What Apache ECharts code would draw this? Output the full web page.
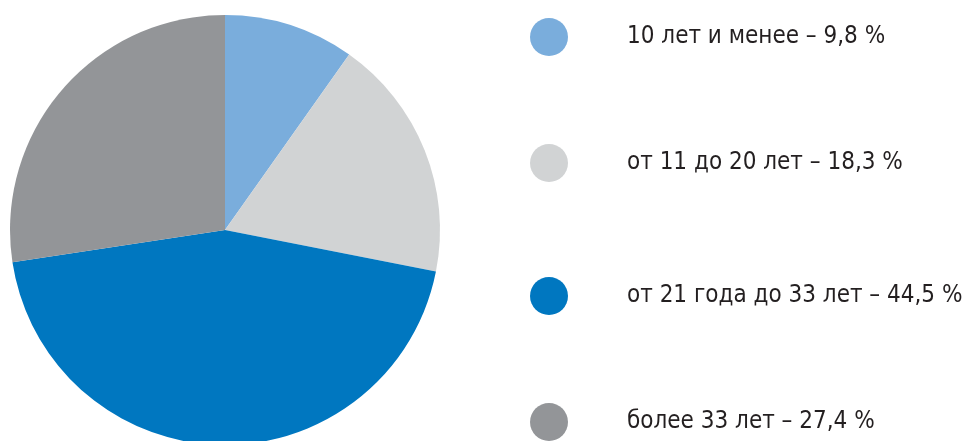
<!DOCTYPE html>
<html>
<head>
<meta charset="utf-8">
<script src="https://cdn.jsdelivr.net/npm/echarts@6/dist/echarts.min.js"></script>
<style>
  html, body { margin: 0; padding: 0; background: #fff; }
  #chart { width: 963px; height: 441px; }
</style>
</head>
<body>
<div id="chart"></div>
<script>
// age groups and their shares, %
const categories = ['10 лет и менее', 'от 11 до 20 лет', 'от 21 года до 33 лет', 'более 33 лет']
const shares = [9.8, 18.3, 44.5, 27.4]
const colors = ['#7aaddc', '#d1d3d4', '#0077c0', '#939598']
// top of each legend row, px
const legendTops = [18, 144, 277, 403]

const chart = echarts.init(document.getElementById('chart'))

// one legend per row so the rows sit where they do in the picture
const legends = categories.map((c, i) => ({
    orient: 'vertical',
    left: 530,
    top: legendTops[i],
    padding: 0,
    itemWidth: 38,
    itemHeight: 38,
    icon: 'circle',
    selectedMode: false,
    data: [c],
    formatter: function (name) {
        const k = categories.indexOf(name)
        return name + ' – ' + String(shares[k]).replace('.', ',') + ' %'
    },
    textStyle: {
        color: '#231f20',
        fontSize: 24,
        fontFamily: "'Liberation Sans Narrow', 'DejaVu Sans Condensed', 'Roboto', sans-serif",
        padding: [0, 0, 0, 54]
    }
}))

const options = {
    animation: false,
    color: colors,
    legend: legends,
    series: [
        {
            type: 'pie',
            center: [225, 230],
            radius: 215,
            startAngle: 90,
            clockwise: true,
            label: { show: false },
            labelLine: { show: false },
            emphasis: { disabled: true },
            data: categories.map((c, i) => ({ name: c, value: shares[i] }))
        }
    ]
}

chart.setOption(options, true)
</script>
</body>
</html>
